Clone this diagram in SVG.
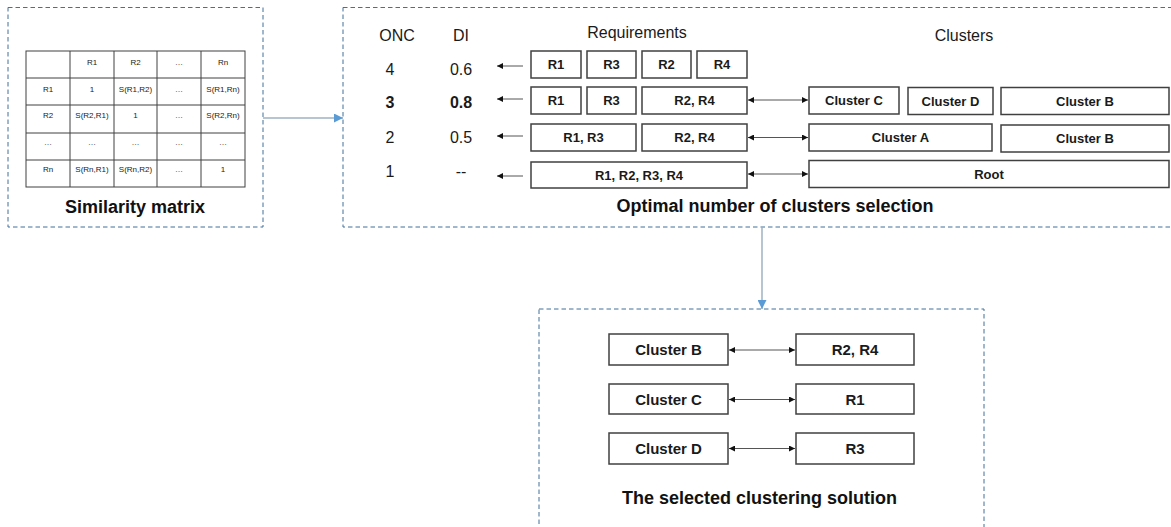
<svg xmlns="http://www.w3.org/2000/svg" width="1171" height="527" viewBox="0 0 1171 527">
  <defs>
    <style>
      .panel { fill: none; stroke: #41719c; stroke-width: 1; stroke-dasharray: 4.5 3; }
      .box { fill: #ffffff; stroke: #404040; stroke-width: 1.5; }
      .grid { fill: none; stroke: #404040; stroke-width: 1; }
      .cell { font-family: "Liberation Sans", Arial, sans-serif; font-size: 8px; fill: #1a1a1a; text-anchor: middle; }
      .lbl { font-family: "Liberation Sans", Arial, sans-serif; font-size: 16px; fill: #1a1a1a; text-anchor: middle; }
      .lblb { font-family: "Liberation Sans", Arial, sans-serif; font-size: 16px; font-weight: bold; fill: #1a1a1a; text-anchor: middle; }
      .bt { font-family: "Liberation Sans", Arial, sans-serif; font-size: 13px; font-weight: bold; fill: #1a1a1a; text-anchor: middle; }
      .bt2 { font-family: "Liberation Sans", Arial, sans-serif; font-size: 15px; font-weight: bold; fill: #1a1a1a; text-anchor: middle; }
      .title { font-family: "Liberation Sans", Arial, sans-serif; font-size: 18px; font-weight: bold; fill: #111111; text-anchor: middle; }
      .flow { stroke: #9fb0c2; stroke-width: 1.5; fill: none; }
      .thin { stroke: #555555; stroke-width: 1; fill: none; }
    </style>
    <marker id="blueHead" viewBox="0 0 10 10" refX="10" refY="5" markerWidth="9" markerHeight="9" markerUnits="userSpaceOnUse" orient="auto">
      <path d="M0,0 L10,5 L0,10 Z" fill="#5b9bd5"/>
    </marker>
    <marker id="blackHead" viewBox="0 0 10 10" refX="10" refY="5" markerWidth="7" markerHeight="6" markerUnits="userSpaceOnUse" orient="auto">
      <path d="M0,0 L10,5 L0,10 Z" fill="#111111"/>
    </marker>
    <marker id="blackTail" viewBox="0 0 10 10" refX="0" refY="5" markerWidth="7" markerHeight="6" markerUnits="userSpaceOnUse" orient="auto">
      <path d="M10,0 L0,5 L10,10 Z" fill="#111111"/>
    </marker>
  </defs>

  <rect width="1171" height="527" fill="#ffffff"/>

  <!-- Panel 1: similarity matrix -->
  <g id="similarity-matrix">
    <rect class="panel" x="8" y="7.5" width="255" height="219.5"/>
    <rect class="grid" x="26" y="51" width="219" height="136"/>
    <path class="grid" d="M70,51V187 M114,51V187 M157,51V187 M201,51V187 M26,78H245 M26,105H245 M26,133H245 M26,160H245"/>
    <g>
      <text class="cell" x="92" y="65">R1</text>
      <text class="cell" x="135.5" y="65">R2</text>
      <text class="cell" x="179" y="65">…</text>
      <text class="cell" x="223" y="65">Rn</text>

      <text class="cell" x="48" y="92">R1</text>
      <text class="cell" x="92" y="92">1</text>
      <text class="cell" x="135.5" y="92">S(R1,R2)</text>
      <text class="cell" x="179" y="92">…</text>
      <text class="cell" x="223" y="92">S(R1,Rn)</text>

      <text class="cell" x="48" y="118">R2</text>
      <text class="cell" x="92" y="118">S(R2,R1)</text>
      <text class="cell" x="135.5" y="118">1</text>
      <text class="cell" x="179" y="118">…</text>
      <text class="cell" x="223" y="118">S(R2,Rn)</text>

      <text class="cell" x="48" y="145">…</text>
      <text class="cell" x="92" y="145">…</text>
      <text class="cell" x="135.5" y="145">…</text>
      <text class="cell" x="179" y="145">…</text>
      <text class="cell" x="223" y="145">…</text>

      <text class="cell" x="48" y="172">Rn</text>
      <text class="cell" x="92" y="172">S(Rn,R1)</text>
      <text class="cell" x="135.5" y="172">S(Rn,R2)</text>
      <text class="cell" x="179" y="172">…</text>
      <text class="cell" x="223" y="172">1</text>
    </g>
    <text class="title" x="135" y="213">Similarity matrix</text>
  </g>

  <!-- Panel 2: optimal number of clusters selection -->
  <g id="onc-selection">
    <rect class="panel" x="343" y="7.5" width="840" height="219.5"/>
    <text class="lbl" x="397" y="41">ONC</text>
    <text class="lbl" x="461" y="41">DI</text>
    <text class="lbl" x="637" y="38">Requirements</text>
    <text class="lbl" x="964" y="41">Clusters</text>

    <text class="lbl" x="390" y="75">4</text>
    <text class="lbl" x="461" y="75">0.6</text>
    <text class="lblb" x="390" y="108">3</text>
    <text class="lblb" x="461" y="108">0.8</text>
    <text class="lbl" x="390" y="143">2</text>
    <text class="lbl" x="461" y="143">0.5</text>
    <text class="lbl" x="390" y="177">1</text>
    <text class="lbl" x="461" y="177">--</text>

    <!-- requirement partitions per level -->
    <g id="req-level-4">
      <rect class="box" x="531" y="51" width="50" height="27"/>
      <rect class="box" x="587" y="51" width="49" height="27"/>
      <rect class="box" x="642" y="51" width="49" height="27"/>
      <rect class="box" x="697" y="51" width="50" height="27"/>
      <text class="bt" x="556" y="69">R1</text>
      <text class="bt" x="611.5" y="69">R3</text>
      <text class="bt" x="666.5" y="69">R2</text>
      <text class="bt" x="722" y="69">R4</text>
    </g>
    <g id="req-level-3">
      <rect class="box" x="531" y="87" width="50" height="27"/>
      <rect class="box" x="587" y="87" width="49" height="27"/>
      <rect class="box" x="642" y="87" width="105" height="27"/>
      <text class="bt" x="556" y="105">R1</text>
      <text class="bt" x="611.5" y="105">R3</text>
      <text class="bt" x="694.5" y="105">R2, R4</text>
    </g>
    <g id="req-level-2">
      <rect class="box" x="531" y="124" width="105" height="27"/>
      <rect class="box" x="642" y="124" width="105" height="27"/>
      <text class="bt" x="583.5" y="142">R1, R3</text>
      <text class="bt" x="694.5" y="142">R2, R4</text>
    </g>
    <g id="req-level-1">
      <rect class="box" x="531" y="162" width="216" height="26"/>
      <text class="bt" x="639" y="179.5">R1, R2, R3, R4</text>
    </g>

    <!-- cluster partitions per level -->
    <g id="clusters-level-3">
      <rect class="box" x="809" y="87" width="90" height="27"/>
      <rect class="box" x="908" y="87.5" width="85" height="27"/>
      <rect class="box" x="1001" y="87.5" width="168" height="27"/>
      <text class="bt" x="854" y="105">Cluster C</text>
      <text class="bt" x="950.5" y="105.5">Cluster D</text>
      <text class="bt" x="1085" y="105.5">Cluster B</text>
    </g>
    <g id="clusters-level-2">
      <rect class="box" x="809" y="124" width="183" height="27"/>
      <rect class="box" x="1001" y="125" width="168" height="27"/>
      <text class="bt" x="900.5" y="142">Cluster A</text>
      <text class="bt" x="1085" y="143">Cluster B</text>
    </g>
    <g id="clusters-level-1">
      <rect class="box" x="809" y="160.5" width="360" height="27"/>
      <text class="bt" x="989" y="178.5">Root</text>
    </g>

    <text class="title" x="775" y="212">Optimal number of clusters selection</text>
  </g>

  <!-- Panel 3: selected clustering solution -->
  <g id="selected-solution">
    <rect class="panel" x="539" y="309" width="445" height="240"/>
    <g id="pair-b">
      <rect class="box" x="609" y="334" width="119" height="31"/>
      <rect class="box" x="796" y="334" width="118" height="31"/>
      <text class="bt2" x="668.5" y="355">Cluster B</text>
      <text class="bt2" x="855" y="355">R2, R4</text>
    </g>
    <g id="pair-c">
      <rect class="box" x="609" y="384" width="119" height="30"/>
      <rect class="box" x="796" y="384" width="118" height="30"/>
      <text class="bt2" x="668.5" y="404.5">Cluster C</text>
      <text class="bt2" x="855" y="404.5">R1</text>
    </g>
    <g id="pair-d">
      <rect class="box" x="609" y="433" width="119" height="31"/>
      <rect class="box" x="796" y="433" width="118" height="31"/>
      <text class="bt2" x="668.5" y="454">Cluster D</text>
      <text class="bt2" x="855" y="454">R3</text>
    </g>
    <text class="title" x="759.5" y="504">The selected clustering solution</text>
  </g>

  <!-- Connectors -->
  <g id="connectors">
    <line class="flow" x1="263" y1="118" x2="343" y2="118" marker-end="url(#blueHead)"/>
    <line class="flow" x1="762" y1="227" x2="762" y2="309" marker-end="url(#blueHead)"/>

    <line class="thin" x1="523" y1="66" x2="497" y2="66" marker-end="url(#blackHead)"/>
    <line class="thin" x1="523" y1="99" x2="497" y2="99" marker-end="url(#blackHead)"/>
    <line class="thin" x1="523" y1="136" x2="497" y2="136" marker-end="url(#blackHead)"/>
    <line class="thin" x1="523" y1="176" x2="497" y2="176" marker-end="url(#blackHead)"/>

    <line class="thin" x1="748" y1="100" x2="808" y2="100" marker-start="url(#blackTail)" marker-end="url(#blackHead)"/>
    <line class="thin" x1="748" y1="137.5" x2="808" y2="137.5" marker-start="url(#blackTail)" marker-end="url(#blackHead)"/>
    <line class="thin" x1="748" y1="174" x2="808" y2="174" marker-start="url(#blackTail)" marker-end="url(#blackHead)"/>

    <line class="thin" x1="729" y1="350" x2="795" y2="350" marker-start="url(#blackTail)" marker-end="url(#blackHead)"/>
    <line class="thin" x1="729" y1="399.5" x2="795" y2="399.5" marker-start="url(#blackTail)" marker-end="url(#blackHead)"/>
    <line class="thin" x1="729" y1="448.5" x2="795" y2="448.5" marker-start="url(#blackTail)" marker-end="url(#blackHead)"/>
  </g>
</svg>
